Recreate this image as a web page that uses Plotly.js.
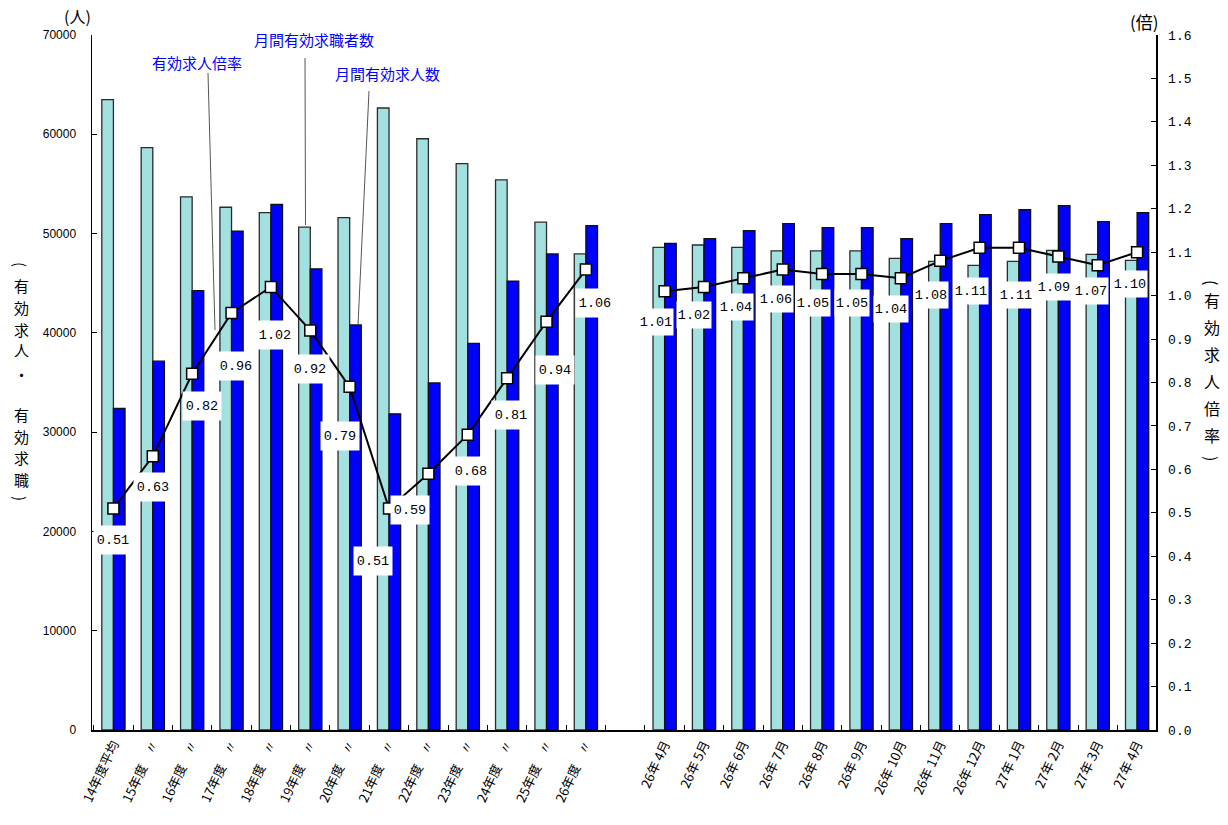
<!DOCTYPE html>
<html>
<head>
<meta charset="utf-8">
<script src="https://cdn.plot.ly/plotly-3.0.1.min.js"></script>
<style>
html,body{margin:0;padding:0;background:#fff;}
#chart{width:1228px;height:825px;}
</style>
</head>
<body>
<div id="chart"></div>
<script>
// ---- data ----
const annualLabels = ["14年度平均","15年度　〃","16年度　〃","17年度　〃","18年度　〃","19年度　〃","20年度　〃","21年度　〃","22年度　〃","23年度　〃","24年度　〃","25年度　〃","26年度　〃"];
const monthLabels = ["26年 4月","26年 5月","26年 6月","26年 7月","26年 8月","26年 9月","26年 10月","26年 11月","26年 12月","27年 1月","27年 2月","27年 3月","27年 4月"];

// 月間有効求職者数 (人)
const seekersAnnual = [63500,58650,53700,52650,52100,50650,51600,62650,59550,57050,55400,51150,47950];
const seekersMonthly = [48600,48850,48600,48250,48250,48250,47500,47200,46800,47200,48300,47900,47300];
// 月間有効求人数 (人)
const openingsAnnual = [32400,37150,44250,50250,52950,46450,40800,31850,34950,38950,45200,47950,50800];
const openingsMonthly = [49000,49500,50300,51000,50600,50600,49500,51000,51900,52400,52800,51200,52100];
// 有効求人倍率 (倍)
const ratioAnnual = [0.51,0.63,0.82,0.96,1.02,0.92,0.79,0.51,0.59,0.68,0.81,0.94,1.06];
const ratioMonthly = [1.01,1.02,1.04,1.06,1.05,1.05,1.04,1.08,1.11,1.11,1.09,1.07,1.10];

const leftTickVals = [0,10000,20000,30000,40000,50000,60000,70000];
const rightTickVals = [0.0,0.1,0.2,0.3,0.4,0.5,0.6,0.7,0.8,0.9,1.0,1.1,1.2,1.3,1.4,1.5,1.6];

// ---- label placement (pixel shifts, style only) ----
const shiftAnnual = [[0,32],[0,31],[10,32],[4,53],[4,48],[0,39],[-10,49],[-16,53],[-18,36],[3,36],[4,37],[8,48],[9,33]];
const shiftMonthly = [[-9,31],[-10,28],[-7,29],[-7,29],[-9,29],[-9,29],[-10,31],[-9,34],[-9,43],[-3,47],[-4,30],[-7,26],[-7,32]];

// ---- build ----
const GAP = " ";
const cats = annualLabels.concat([GAP], monthLabels);
const seekers = seekersAnnual.concat([null], seekersMonthly);
const openings = openingsAnnual.concat([null], openingsMonthly);
const ratio = ratioAnnual.concat([null], ratioMonthly);
const shifts = shiftAnnual.concat([null], shiftMonthly);
const nAnnual = annualLabels.length;

const L = 92, R = 1156, T = 35, B = 730;
const W = R - L, H = B - T;
const px = x => (x - L) / W;
const py = y => (B - y) / H;

const traces = [
  {type:'bar', x:cats, y:seekers, name:'月間有効求職者数',
   marker:{color:'#A3E0E0', line:{color:'#2b2b2b', width:1.3}}, hoverinfo:'skip'},
  {type:'bar', x:cats, y:openings, name:'月間有効求人数',
   marker:{color:'#0000FF', line:{color:'#111111', width:1.3}}, hoverinfo:'skip'},
  {type:'scatter', mode:'lines+markers', x:cats, y:ratio, yaxis:'y2', name:'有効求人倍率',
   connectgaps:false,
   line:{color:'#000000', width:2},
   marker:{symbol:'square', size:11, color:'#ffffff', line:{color:'#000000', width:1.5}},
   hoverinfo:'skip'}
];

const annotations = [];
cats.forEach((c,i)=>{
  if (ratio[i] === null) return;
  const annual = i < nAnnual;
  annotations.push({
    xref:'x', yref:'y2', x:c, y:ratio[i], text:ratio[i].toFixed(2),
    xanchor:'center', yanchor:'middle', align:'center', valign:'middle',
    width: annual ? 38 : 34, height: annual ? 28 : 26,
    showarrow:false, xshift:shifts[i][0], yshift:-shifts[i][1],
    bgcolor:'#ffffff', borderpad:0,
    font:{family:'Liberation Mono, DejaVu Sans Mono, monospace', size:13.5, color:'#000'}
  });
});

const cjk = 'Noto Sans CJK JP, sans-serif';
function paperText(x, y, text, font, extra) {
  annotations.push(Object.assign({xref:'paper', yref:'paper', x:px(x), y:py(y), text:text,
    xanchor:'center', yanchor:'middle', showarrow:false, borderpad:0, font:font}, extra || {}));
}
// series callouts
paperText(197, 62, '有効求人倍率', {family:cjk, size:15, color:'#0000FF'});
paperText(314, 40, '月間有効求職者数', {family:cjk, size:15, color:'#0000FF'});
paperText(387, 74, '月間有効求人数', {family:cjk, size:15, color:'#0000FF'});
// units
paperText(77, 16, '(人)', {family:cjk, size:16, color:'#000'});
paperText(1144, 21, '(倍)', {family:cjk, size:17, color:'#000'});

// vertical axis titles (parentheses rotated, characters upright)
const leftTitle = ['(','有','効','求','人','・','有','効','求','職',')'];
const leftTitleY = [264,285,307,329,350,375,414,436,457,479,498];
leftTitle.forEach((ch,i)=>paperText(21, leftTitleY[i], ch, {family:cjk, size:15, color:'#000'},
  (ch==='('||ch===')') ? {textangle:90} : {}));
const rightTitle = ['(','有','効','求','人','倍','率',')'];
const rightTitleY = [282,300,327,354,381,408,435,458];
rightTitle.forEach((ch,i)=>paperText(1212, rightTitleY[i], ch, {family:cjk, size:16, color:'#000'},
  (ch==='('||ch===')') ? {textangle:90} : {}));

const shapes = [
  {type:'line', xref:'paper', yref:'paper', x0:px(208), y0:py(73), x1:px(215), y1:py(330), line:{color:'#555', width:1}},
  {type:'line', xref:'paper', yref:'paper', x0:px(305), y0:py(58), x1:px(305.5), y1:py(225), line:{color:'#555', width:1}},
  {type:'line', xref:'paper', yref:'paper', x0:px(369), y0:py(91), x1:px(358), y1:py(325), line:{color:'#555', width:1}}
];

const layout = {
  width:1228, height:825,
  margin:{l:L, r:1228-R, t:T, b:825-B, pad:0},
  paper_bgcolor:'#ffffff', plot_bgcolor:'#ffffff',
  showlegend:false,
  barmode:'group', bargap:0.41, bargroupgap:0,
  xaxis:{type:'category', categoryorder:'array', categoryarray:cats,
    range:[-0.544, 26.48], tickangle:-65,
    ticks:'inside', tickson:'boundaries', ticklen:5, tickcolor:'#000', tickwidth:1,
    showline:true, linecolor:'#000', linewidth:1.5, showgrid:false, zeroline:false,
    tickfont:{family:cjk, size:13, color:'#000'}, fixedrange:true},
  yaxis:{range:[0,70000], tickvals:leftTickVals, ticktext:leftTickVals.map(String),
    ticks:'inside', ticklen:5, tickcolor:'#000', tickwidth:1,
    showline:true, linecolor:'#000', linewidth:1.5, showgrid:false, zeroline:false,
    ticklabelstandoff:12,
    tickfont:{family:'Liberation Sans, Arial, sans-serif', size:12, color:'#000'}},
  yaxis2:{overlaying:'y', side:'right', range:[0,1.6], tickvals:rightTickVals,
    ticktext:rightTickVals.map(v=>v.toFixed(1)),
    ticks:'inside', ticklen:5, tickcolor:'#000', tickwidth:1,
    showline:true, linecolor:'#000', linewidth:1.5, showgrid:false, zeroline:false,
    ticklabelstandoff:8,
    tickfont:{family:'Liberation Mono, DejaVu Sans Mono, monospace', size:13, color:'#000'}},
  annotations:annotations,
  shapes:shapes
};

Plotly.newPlot('chart', traces, layout, {staticPlot:true, displayModeBar:false});
</script>
</body>
</html>
